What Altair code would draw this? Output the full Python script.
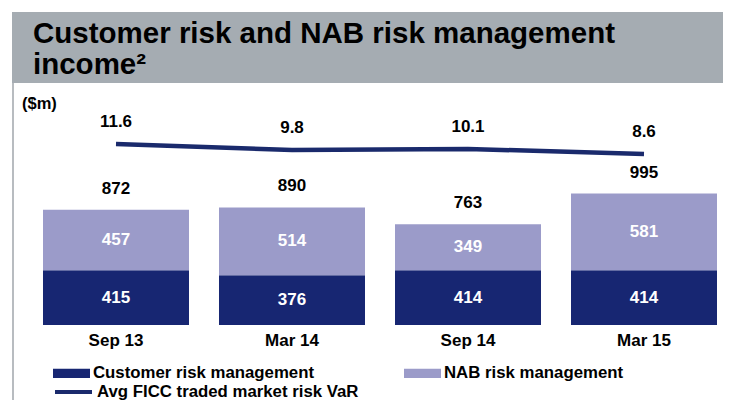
import altair as alt
import pandas as pd

# ---- data ----
periods = ["Sep 13", "Mar 14", "Sep 14", "Mar 15"]
customer_risk = [415, 376, 414, 414]
nab_risk = [457, 514, 349, 581]
totals = [872, 890, 763, 995]
var_values = [11.6, 9.8, 10.1, 8.6]
series_names = ["Customer risk management", "NAB risk management"]
line_name = "Avg FICC traded market risk VaR"
title_lines = ["Customer risk and NAB risk management", "income²"]
unit_label = "($m)"

# ---- styles ----
NAVY = "#172672"
LAVENDER = "#9B9BC9"
LINE = "#1A2A6C"
BANNER = "#A5ACB2"
BORDER = "#B8BCC0"
FONT = "Liberation Sans"

W, H = 715, 392

bars_df = pd.DataFrame({
    "period": periods * 2,
    "series": [series_names[0]] * 4 + [series_names[1]] * 4,
    "value": customer_risk + nab_risk,
    "ord": [0] * 4 + [1] * 4,
})
tot_df = pd.DataFrame({"period": periods, "total": totals})
line_df = pd.DataFrame({"period": periods, "var": var_values, "series": [line_name] * 4})
title_df = pd.DataFrame({"title": ["\n".join(title_lines)]})
unit_df = pd.DataFrame({"unit": [unit_label]})
one_df = pd.DataFrame({"k": [0]})

x_scale = alt.Scale(domain=periods, range=[35, 709], paddingInner=0.1705, paddingOuter=0)
x_enc = alt.X("period:N", sort=periods, scale=x_scale, axis=None)
y_bar_scale = alt.Scale(domain=[0, 2400], range=[317, 0], nice=False, zero=True)
y_var_scale = alt.Scale(domain=[0, 20], range=[174.6, 108], nice=False, zero=True)

banner = alt.Chart(one_df).mark_rect(color=BANNER).encode(
    x=alt.value(4), x2=alt.value(719), y=alt.value(4), y2=alt.value(75)
)
border_l = alt.Chart(one_df).mark_rule(color=BORDER, strokeWidth=2).encode(
    x=alt.value(5), y=alt.value(75), y2=alt.value(H)
)
border_r = alt.Chart(one_df).mark_rule(color=BORDER, strokeWidth=2).encode(
    x=alt.value(718), y=alt.value(75), y2=alt.value(H)
)
title = alt.Chart(title_df).mark_text(
    font=FONT, fontWeight="bold", fontSize=29.5, align="left", baseline="alphabetic",
    lineBreak="\n", lineHeight=31, color="black"
).encode(text="title:N", x=alt.value(25), y=alt.value(35))
unit = alt.Chart(unit_df).mark_text(
    font=FONT, fontWeight="bold", fontSize=16.5, align="left", baseline="middle", color="black"
).encode(text="unit:N", x=alt.value(14), y=alt.value(96))

bars = alt.Chart(bars_df).mark_bar(size=146).encode(
    x=x_enc,
    y=alt.Y("value:Q", stack="zero", scale=y_bar_scale, axis=None),
    fill=alt.Fill(
        "series:N",
        scale=alt.Scale(domain=series_names, range=[NAVY, LAVENDER]),
        legend=alt.Legend(
            title=None, orient="none", legendX=45, legendY=346.5, direction="horizontal",
            columns=2, columnPadding=89, padding=0,
            symbolType="M-1,-0.25H1V0.25H-1Z", symbolSize=1369, symbolStrokeWidth=0,
            symbolOpacity=1, labelFont=FONT, labelFontWeight="bold", labelFontSize=16.8,
            labelColor="black", labelOffset=3, labelLimit=400,
        ),
    ),
    order=alt.Order("ord:Q", sort="ascending"),
)

seg_labels = alt.Chart(bars_df).transform_stack(
    stack="value", groupby=["period"], as_=["y0", "y1"],
    sort=[alt.SortField("ord", order="ascending")],
).transform_calculate(mid="(datum.y0 + datum.y1) / 2").mark_text(
    font=FONT, fontWeight="bold", fontSize=17, color="white", baseline="middle"
).encode(
    x=x_enc,
    y=alt.Y("mid:Q", scale=y_bar_scale, axis=None),
    text=alt.Text("value:Q"),
)

tot_labels = alt.Chart(tot_df).mark_text(
    font=FONT, fontWeight="bold", fontSize=17, color="black", baseline="middle", dy=-21
).encode(
    x=x_enc,
    y=alt.Y("total:Q", scale=y_bar_scale, axis=None),
    text=alt.Text("total:Q"),
)

cat_labels = alt.Chart(tot_df).mark_text(
    font=FONT, fontWeight="bold", fontSize=17, color="black", baseline="middle"
).encode(x=x_enc, y=alt.value(333), text="period:N")

line = alt.Chart(line_df).mark_line(strokeWidth=4.5).encode(
    x=x_enc,
    y=alt.Y("var:Q", scale=y_var_scale, axis=None),
    stroke=alt.Stroke(
        "series:N",
        scale=alt.Scale(domain=[line_name], range=[LINE]),
        legend=alt.Legend(
            title=None, orient="none", legendX=45, legendY=363.5, padding=0,
            symbolType="stroke", symbolSize=1369, symbolStrokeWidth=4,
            labelFont=FONT, labelFontWeight="bold", labelFontSize=16.8,
            labelColor="black", labelOffset=3, labelLimit=400,
        ),
    ),
)

line_labels = alt.Chart(line_df).mark_text(
    font=FONT, fontWeight="bold", fontSize=17, color="black", baseline="middle", dy=-22
).encode(
    x=x_enc,
    y=alt.Y("var:Q", scale=y_var_scale, axis=None),
    text=alt.Text("var:Q", format=".1f"),
)

chart = alt.layer(
    banner, border_l, border_r, title, unit,
    bars, seg_labels, tot_labels, cat_labels, line, line_labels,
).resolve_scale(y="independent").properties(
    width=W, height=H, autosize=alt.AutoSizeParams(type="none"), padding=0,
    background="white",
).configure_view(stroke=None)

chart.save("out.html", embed_options={"renderer": "svg", "actions": False})
